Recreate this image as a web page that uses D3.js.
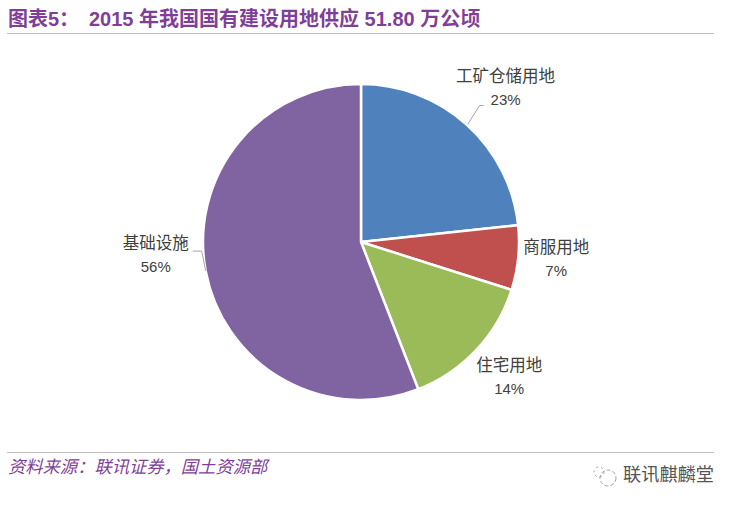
<!DOCTYPE html>
<html>
<head>
<meta charset="utf-8">
<script src="https://cdnjs.cloudflare.com/ajax/libs/d3/7.8.5/d3.min.js"></script>
<style>
  html, body { margin: 0; padding: 0; background: #fff; }
  svg { display: block; }
  text { font-family: "Liberation Sans", "Noto Sans CJK SC", sans-serif; }
</style>
</head>
<body>
<svg id="chart"></svg>
<script>
const categories = ["工矿仓储用地", "商服用地", "住宅用地", "基础设施"];
// the labels show these rounded
const shares = [23.3, 6.6, 14.2, 55.9];
const colors = ["#4f81bd", "#c0504d", "#9bbb59", "#8064a2"];

const width = 737, height = 507;
const cx = 361, cy = 242, radius = 158;
const purple = "#7f3f98";

// label position relative to the slice's outer edge
const labelOffset = [[39, -36], [38, 1], [33, 27], [-50, -16]];
// leader bends relative to the slice's outer edge, only two slices have one
const leaderBends = [[[1, 0], [13, -19], [17, -19]], null, null, [[0, 0], [-4, -20], [-13, -20]]];

const svg = d3.select("#chart").attr("width", width).attr("height", height);

// Title
svg.append("text").attr("x", 8).attr("y", 26)
    .attr("font-size", 20).attr("font-weight", 700).attr("fill", purple)
    .text("图表5：");
svg.append("text").attr("x", 89).attr("y", 26)
    .attr("font-size", 20).attr("font-weight", 700).attr("fill", purple)
    .text("2015 年我国国有建设用地供应 51.80 万公顷");
svg.append("line").attr("x1", 7).attr("x2", 714).attr("y1", 33.5).attr("y2", 33.5)
    .attr("stroke", "#c4bfc9");

// Pie
const pie = d3.pie().sort(null).value(d => d);
const arc = d3.arc().innerRadius(0).outerRadius(radius);
const edge = d3.arc().innerRadius(radius).outerRadius(radius);
const arcs = pie(shares);

const g = svg.append("g").attr("transform", `translate(${cx},${cy})`);

g.selectAll("path")
    .data(arcs)
    .enter().append("path")
    .attr("d", arc)
    .attr("fill", (d, i) => colors[i])
    .attr("stroke", "#fff")
    .attr("stroke-width", 2.5);

// Labels
const labels = g.selectAll("g.label")
    .data(arcs)
    .enter().append("g")
    .attr("class", "label")
    .attr("transform", (d, i) => {
      const p = edge.centroid(d);
      return `translate(${p[0] + labelOffset[i][0]},${p[1] + labelOffset[i][1]})`;
    });

labels.append("text")
    .attr("text-anchor", "middle").attr("y", -6)
    .attr("font-size", 16.5).attr("fill", "#404040")
    .text((d, i) => categories[i]);
labels.append("text")
    .attr("text-anchor", "middle").attr("y", 17)
    .attr("font-size", 15).attr("fill", "#404040")
    .text(d => Math.round(d.value) + "%");

// Leader lines
const leader = d3.line();
arcs.forEach((d, i) => {
  if (!leaderBends[i]) return;
  const p = edge.centroid(d);
  g.append("path").attr("d", leader(leaderBends[i].map(b => [p[0] + b[0], p[1] + b[1]])))
      .attr("fill", "none").attr("stroke", "#a6a6a6").attr("stroke-width", 1);
});

// Footer
svg.append("line").attr("x1", 7).attr("x2", 714).attr("y1", 452.5).attr("y2", 452.5)
    .attr("stroke", "#c4bfc9");
svg.append("text").attr("x", 8).attr("y", 473)
    .attr("font-size", 17.3).attr("font-style", "italic").attr("fill", purple)
    .text("资料来源：联讯证券，国土资源部");

// Watermark
const mark = svg.append("g").attr("fill", "none").attr("stroke", "#8a8a8a").attr("stroke-width", 0.8);
mark.append("circle").attr("cx", 608).attr("cy", 478).attr("r", 8).attr("stroke-dasharray", "4 2");
mark.append("circle").attr("cx", 599).attr("cy", 472).attr("r", 5).attr("stroke-dasharray", "2 3");
svg.append("text").attr("x", 623).attr("y", 481)
    .attr("font-size", 18.2).attr("fill", "#555")
    .text("联讯麒麟堂");
</script>
</body>
</html>
